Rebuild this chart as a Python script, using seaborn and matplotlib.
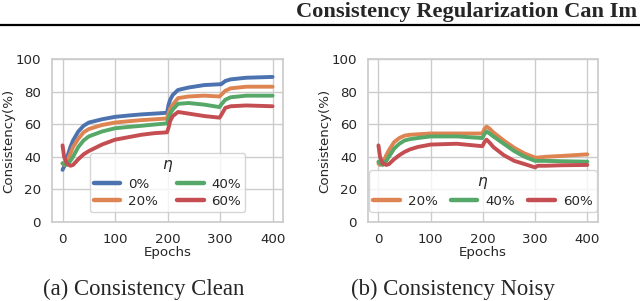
import numpy as np
import pandas as pd
import matplotlib
matplotlib.use("Agg")
import matplotlib.pyplot as plt
import seaborn as sns

# values (approximate)
clean_epochs = [0, 3, 8, 15, 20, 30, 40, 50, 75, 100, 125, 150, 175, 199, 202, 205,
                210, 220, 240, 270, 299, 302, 310, 320, 350, 400]
clean_0 = [32, 34, 39, 46, 50, 55.5, 59, 61, 63, 64.5, 65.3, 66, 66.5, 67, 72, 75,
           78, 81, 82.5, 84, 84.5, 84.5, 86.5, 87.5, 88.5, 89]
clean_20 = [36, 35, 36.5, 42, 46, 51, 55, 57, 59.5, 61, 61.8, 62.5, 63, 63.5, 67, 69.5,
            72, 76, 77, 77.5, 77, 78, 80.5, 82, 83, 83]
clean_40 = [36, 35.5, 35, 37.5, 40, 46, 50, 52.5, 55.5, 57.5, 58.3, 59, 59.8, 60.5, 64, 66.5,
            69, 72.5, 73, 72, 70.5, 72, 75, 76.5, 77.5, 77.5]
clean_60 = [47, 40, 36, 34.5, 35, 38.5, 41.5, 43.5, 47.5, 50.5, 52, 53.5, 54.5, 55, 58, 62,
            65, 67.5, 66.5, 65, 64, 65.5, 70, 71, 71.5, 71]

noisy_epochs = [0, 3, 8, 15, 20, 30, 40, 50, 60, 75, 100, 150, 199, 203, 207, 212,
                220, 240, 260, 280, 300, 305, 320, 350, 400]
noisy_20 = [36, 35, 36, 41, 44, 49, 51.5, 53, 53.5, 53.8, 54.3, 54.3, 54.3, 57, 58.5, 57.5,
            55, 50, 45.5, 42, 39.5, 39.5, 40, 40.5, 41.5]
noisy_40 = [37, 36, 35, 37.5, 40, 45, 48, 50, 50.8, 51.5, 52.5, 52.5, 51.5, 54, 55.5, 54.5,
            52.5, 48, 43.5, 40, 37.5, 37.5, 37.5, 37.3, 37]
noisy_60 = [47, 40, 36, 35, 35.5, 38.5, 41, 43, 44.5, 46, 47.5, 48, 46.5, 49, 50.5, 49,
            46, 41, 37.5, 35.5, 33.5, 34.5, 34.5, 34.8, 35]

x_ticks = [0, 100, 200, 300, 400]
y_ticks = [0, 20, 40, 60, 80, 100]


def long_form(epochs, series):
    frames = []
    for name, vals in series.items():
        frames.append(pd.DataFrame({"Epochs": epochs, "Consistency": vals, "eta": name}))
    return pd.concat(frames, ignore_index=True)


clean_df = long_form(clean_epochs, {"0%": clean_0, "20%": clean_20,
                                    "40%": clean_40, "60%": clean_60})
noisy_df = long_form(noisy_epochs, {"20%": noisy_20, "40%": noisy_40, "60%": noisy_60})

sns.set_theme(style="whitegrid")
plt.rcParams["font.family"] = ["DejaVu Sans"]
deep = sns.color_palette("deep")
pal = {"0%": deep[0], "20%": deep[1], "40%": deep[2], "60%": deep[3]}

fig = plt.figure(figsize=(6.4, 3.01), dpi=100)
ax1 = fig.add_axes([0.0813, 0.2625, 0.361, 0.5415])
ax2 = fig.add_axes([0.575, 0.2625, 0.359, 0.5415])

fs = 9.6
for ax, df, ncol, colsp in [(ax1, clean_df, 2, 1.4), (ax2, noisy_df, 3, 1.0)]:
    sns.lineplot(data=df, x="Epochs", y="Consistency", hue="eta", palette=pal,
                 linewidth=2.8, ax=ax)
    ax.set_xlim(-20, 420)
    ax.set_ylim(0, 100)
    ax.set_xticks(x_ticks)
    ax.set_yticks(y_ticks)
    ax.tick_params(labelsize=fs, pad=2, colors=".15")
    ax.set_xlabel("Epochs", fontsize=fs, labelpad=0)
    ax.set_ylabel("Consistency(%)", fontsize=fs, labelpad=0)
    leg = ax.legend(title=r"$\eta$", ncol=ncol, loc="lower center",
                    bbox_to_anchor=(0.5, 0.02), fontsize=fs, title_fontsize=fs + 1.5,
                    handlelength=2.0, columnspacing=colsp, borderpad=0.3,
                    labelspacing=0.3, handletextpad=0.6)
    for line in leg.get_lines():
        line.set_linewidth(3.2)

# page header and captions
fig.text(0.463, 0.943, "Consistency Regularization Can Im", fontsize=16.1,
         fontweight="bold", family="Liberation Serif", va="baseline", ha="left")
fig.add_artist(plt.Line2D([0, 1], [0.917, 0.917], color="black", lw=1.6))
fig.text(0.224, 0.02, "(a) Consistency Clean", fontsize=16.4,
         family="Liberation Serif", ha="center", va="baseline")
fig.text(0.708, 0.02, "(b) Consistency Noisy", fontsize=16.4,
         family="Liberation Serif", ha="center", va="baseline")

fig.savefig("out.png", dpi=100)
